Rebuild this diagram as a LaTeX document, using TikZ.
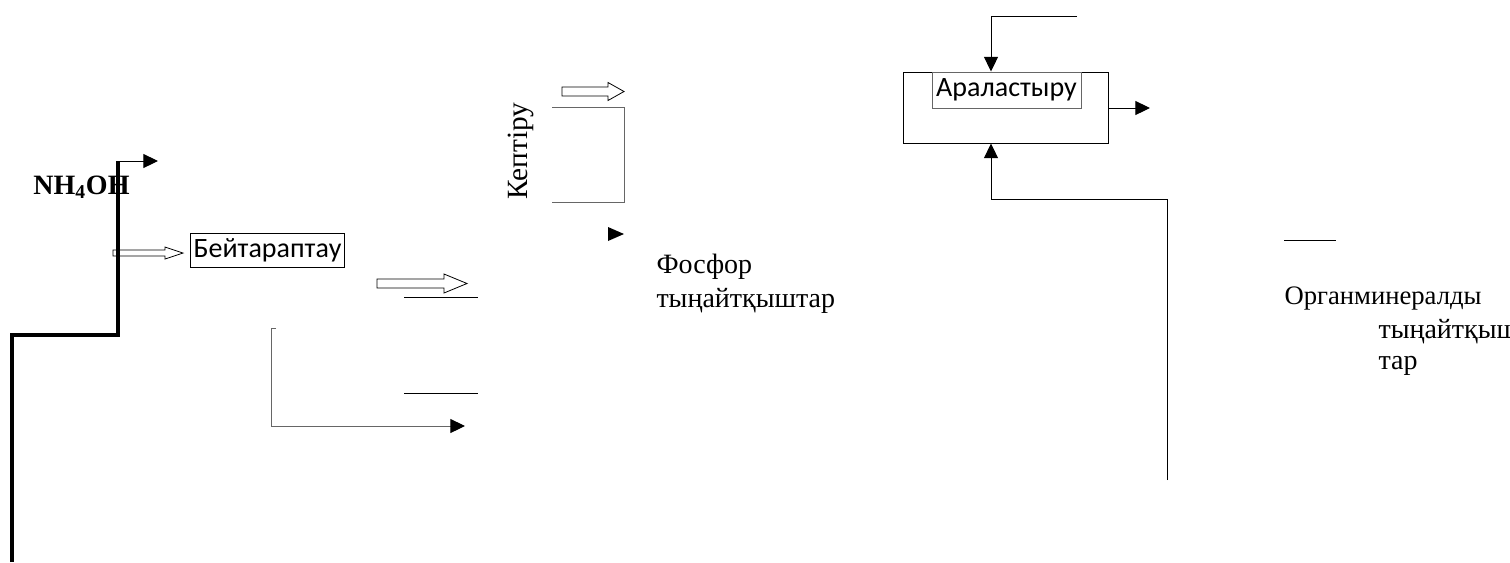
\documentclass[tikz,border=0pt]{standalone}
\usepackage{fontspec}
\setmainfont{Liberation Serif}
\newfontfamily\boxfont{Carlito}
\usetikzlibrary{positioning}
\usetikzlibrary{arrows.meta}
\definecolor{lGray}{HTML}{666666}

% hollow block arrow: tail x, y, tip x, shaft half height, head half height, head length
\newcommand{\blockarrow}[6]{%
  \draw[line width=0.6pt] (#1,#2-#4) -- (#3-#6,#2-#4) -- (#3-#6,#2-#5) -- (#3,#2)
    -- (#3-#6,#2+#5) -- (#3-#6,#2+#4) -- (#1,#2+#4) -- cycle;}

\begin{document}
\begin{tikzpicture}[x=0.75pt, y=-0.75pt, line width=0.75pt,
    arr/.style={-{Triangle[length=11pt,width=10.5pt,color=black]}},
    feedline/.style={line width=3pt},
    stagebox/.style={draw, inner sep=0pt, font=\boxfont\fontsize{21}{25}\selectfont},
    bigtext/.style={inner sep=0pt, font=\fontsize{21}{26}\selectfont}]
  \useasboundingbox (0,0) rectangle (1510,562);

  % ammonia feed
  \coordinate (feed0) at (12,562);
  \coordinate (feed1) at (118,335);
  \coordinate (feed2) at (118,161);
  \coordinate (feedout) at (158,161);
  \draw[feedline] (feed0) |- (feed1) -- (feed2);
  \draw[arr] (feed2) -- (feedout);
  \node[bigtext, anchor=base west, font=\bfseries\fontsize{21}{26}\selectfont] (nh4oh) at (33,194) {NH\textsubscript{4}OH};

  % neutralisation
  \node[stagebox, minimum width=116pt, minimum height=25.5pt] (neutral) at (267.5,250) {Бейтараптау};
  \blockarrow{113}{253}{183}{3}{6}{18}
  \blockarrow{377}{283.5}{467}{4.5}{9.5}{23}
  \coordinate (lineA0) at (404,297);
  \coordinate (lineA1) at (478,297);
  \draw (lineA0) -- (lineA1);
  \coordinate (lineB0) at (404,393);
  \coordinate (lineB1) at (478,393);
  \draw (lineB0) -- (lineB1);
  \coordinate (ret0) at (276,328);
  \coordinate (ret1) at (271,426);
  \coordinate (ret2) at (465,426);
  \draw[lGray] (ret0) -- (ret0 -| ret1) -- (ret1);
  \draw[lGray, arr] (ret1) -- (ret2);

  % drying
  \node[bigtext, rotate=90, anchor=base, font=\fontsize{22}{26}\selectfont] (dry) at (527,151) {Кептіру};
  \blockarrow{562}{91.5}{624}{4.5}{9}{16}
  \coordinate (dryA) at (552,107);
  \coordinate (dryB) at (624,202);
  \draw[lGray] (dryA) -| (dryB) -- (dryB -| dryA);
  \fill (608,227) -- (624,234) -- (608,241) -- cycle;
  \node[bigtext, anchor=base west] (phos1) at (656,273) {Фосфор};
  \node[bigtext, anchor=base west] (phos2) at (656,307) {тыңайтқыштар};

  % mixing
  \node[draw, minimum width=153.75pt, minimum height=53.25pt, inner sep=0pt] (mixer) at (1005.5,107.5) {};
  \node[stagebox, draw=lGray, minimum width=111.75pt, minimum height=27pt] (mixlbl) at (1006.5,90) {Араластыру};
  \coordinate (col) at (991,0);
  \coordinate (mixin) at (1077,16);
  \draw[arr] (mixin) -| (mixer.north -| col);
  \coordinate (mixout) at (1150,108);
  \draw[arr] (mixer.east |- mixout) -- (mixout);
  \coordinate (back0) at (1167,480);
  \coordinate (back1) at (991,199);
  \draw[arr] (back0) |- (back1) -- (mixer.south -| col);

  % product
  \coordinate (prod0) at (1284,240);
  \coordinate (prod1) at (1336,240);
  \draw (prod0) -- (prod1);
  \node[bigtext, anchor=base west, font=\fontsize{20}{26}\selectfont] (org1) at (1284,304) {Органминералды};
  \node[bigtext, anchor=base west] (org2) at (1378,338) {тыңайтқыш};
  \node[bigtext, anchor=base west] (org3) at (1378,369) {тар};
\end{tikzpicture}
\end{document}
